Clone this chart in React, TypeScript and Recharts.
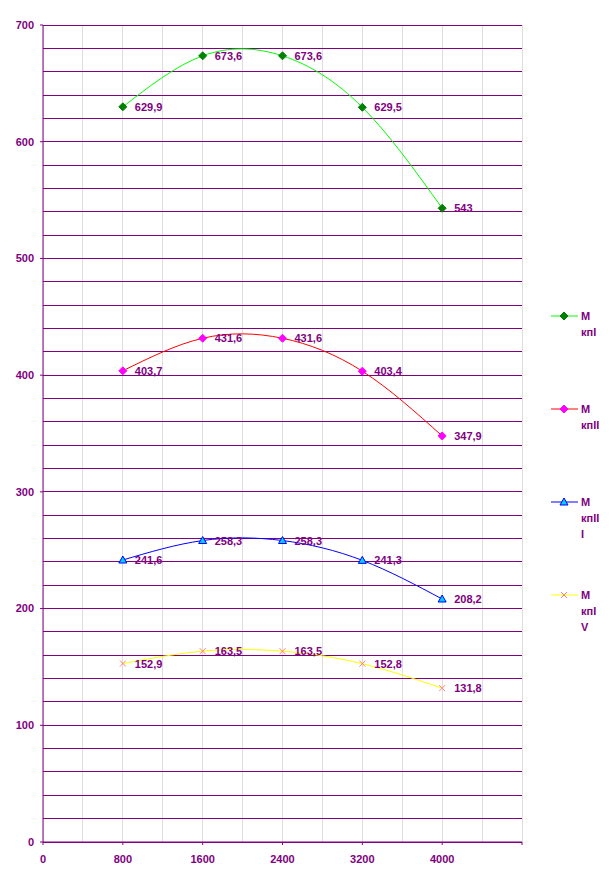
import React from "react"
import { LineChart, Line, XAxis, YAxis, CartesianGrid, LabelList } from "recharts"

// engine speed (rpm) and torque values per series
const rpm = [800, 1600, 2400, 3200, 4000]
const mkp1 = [629.9, 673.6, 673.6, 629.5, 543]
const mkp2 = [403.7, 431.6, 431.6, 403.4, 347.9]
const mkp3 = [241.6, 258.3, 258.3, 241.3, 208.2]
const mkp4 = [152.9, 163.5, 163.5, 152.8, 131.8]

const seriesNames = ["М кпI", "М кпII", "М кпIII", "М кпIV"]
const legendLines = [
  ["М", "кпI"],
  ["М", "кпII"],
  ["М", "кпII", "I"],
  ["М", "кпI", "V"],
]

const xTicks = [0, 800, 1600, 2400, 3200, 4000, 4800]
const xGrid = [0, 400, 800, 1200, 1600, 2000, 2400, 2800, 3200, 3600, 4000, 4400, 4800]
const yTicks = [0, 100, 200, 300, 400, 500, 600, 700]
const yGrid = Array.from({ length: 36 }, (_, i) => i * 20)

const data = rpm.map((x, i) => ({ x, s1: mkp1[i], s2: mkp2[i], s3: mkp3[i], s4: mkp4[i] }))

const PURPLE = "#800080"
const FONT = "'Liberation Sans', Arial, sans-serif"

const Diamond = ({ cx, cy, color }: any) => (
  <polygon points={`${cx},${cy - 4} ${cx + 4},${cy} ${cx},${cy + 4} ${cx - 4},${cy}`} fill={color} stroke={color} strokeWidth={1} />
)
const Triangle = ({ cx, cy }: any) => (
  <polygon points={`${cx},${cy - 4} ${cx + 4},${cy + 3} ${cx - 4},${cy + 3}`} fill="#00ccff" stroke="#0000ff" strokeWidth={1} />
)
const Cross = ({ cx, cy }: any) => (
  <g stroke="#ff8080" strokeWidth={1}>
    <line x1={cx - 3} y1={cy - 3} x2={cx + 3} y2={cy + 3} />
    <line x1={cx - 3} y1={cy + 3} x2={cx + 3} y2={cy - 3} />
  </g>
)

const markers = [
  (p: any) => <Diamond key={p.index} cx={p.cx} cy={p.cy} color="#008000" />,
  (p: any) => <Diamond key={p.index} cx={p.cx} cy={p.cy} color="#ff00ff" />,
  (p: any) => <Triangle key={p.index} cx={p.cx} cy={p.cy} />,
  (p: any) => <Cross key={p.index} cx={p.cx} cy={p.cy} />,
]
const lineColors = ["#00ff00", "#ff0000", "#0000ff", "#ffff00"]

const fmt = (v: number) => String(v).replace(".", ",")

const PointLabel = (props: any) => {
  const { x, y, value } = props
  return (
    <text x={x + 12} y={y} dy={4} fill={PURPLE} fontSize={11} fontWeight="bold" fontFamily={FONT}>
      {fmt(value)}
    </text>
  )
}

const LegendBox = () => (
  <div style={{ position: "absolute", left: 551, top: 308, fontFamily: FONT, fontSize: 11, fontWeight: "bold", color: PURPLE }}>
    {legendLines.map((lines, i) => (
      <div key={i} style={{ height: 93, display: "flex", alignItems: "flex-start" }} title={seriesNames[i]}>
        <svg width={30} height={16} style={{ flex: "none" }}>
          <line x1={0} y1={8} x2={27} y2={8} stroke={lineColors[i]} strokeWidth={1} />
          {markers[i]({ cx: 13, cy: 8, index: 0 })}
        </svg>
        <div style={{ lineHeight: "16px" }}>
          {lines.map((t, j) => (
            <div key={j}>{t}</div>
          ))}
        </div>
      </div>
    ))}
  </div>
)

export default function App() {
  const keys = ["s1", "s2", "s3", "s4"]
  return (
    <div style={{ position: "absolute", left: 0, top: 0, width: 610, height: 884, background: "#fff" }}>
      <LineChart width={610} height={884} data={data} margin={{ top: 25, right: 88, left: 0, bottom: 12 }}>
        <CartesianGrid horizontal={false} verticalValues={xGrid} stroke="#dddddd" strokeWidth={1} shapeRendering="crispEdges" />
        <CartesianGrid vertical={false} horizontalValues={yGrid} stroke={PURPLE} strokeWidth={1} shapeRendering="crispEdges" />
        <XAxis
          dataKey="x"
          type="number"
          domain={[0, 4800]}
          ticks={xTicks}
          tickFormatter={(v: number) => (v === 4800 ? "" : String(v))}
          stroke={PURPLE}
          tickSize={3}
          tickMargin={10}
          height={30}
          tick={{ fill: PURPLE, fontSize: 11, fontWeight: "bold", fontFamily: FONT }}
        />
        <YAxis
          type="number"
          domain={[0, 700]}
          ticks={yTicks}
          stroke={PURPLE}
          width={43}
          tickSize={3}
          tickMargin={6}
          tick={{ fill: PURPLE, fontSize: 11, fontWeight: "bold", fontFamily: FONT }}
        />
        {keys.map((k, i) => (
          <Line
            key={k}
            type="natural"
            dataKey={k}
            name={seriesNames[i]}
            stroke={lineColors[i]}
            strokeWidth={1}
            dot={markers[i]}
            activeDot={false}
            isAnimationActive={false}
          >
            <LabelList dataKey={k} content={<PointLabel />} />
          </Line>
        ))}
      </LineChart>
      <LegendBox />
    </div>
  )
}
